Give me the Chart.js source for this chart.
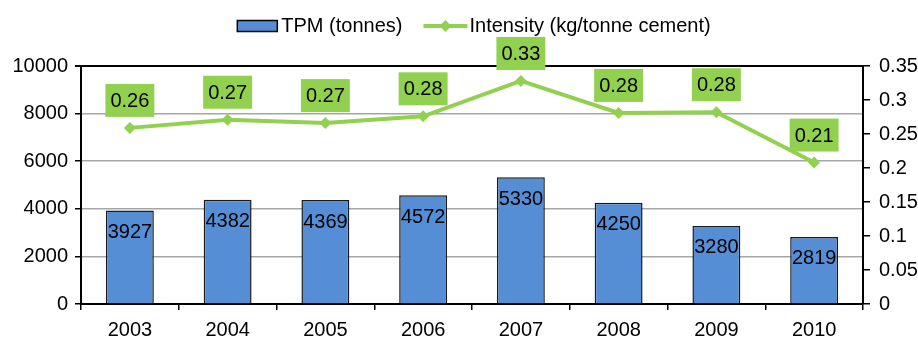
<!DOCTYPE html>
<html lang="en">
<head>
    <meta charset="UTF-8">
    <title>TPM and intensity</title>
    <script src="https://cdn.jsdelivr.net/npm/chart.js"></script>
    <style>
        body { margin: 0; background: #fff; }
    </style>
</head>
<body>
    <canvas id="chart1" width="918" height="339"></canvas>

    <script>
        var years = ['2003', '2004', '2005', '2006', '2007', '2008', '2009', '2010'];
        var tpm = [3927, 4382, 4369, 4572, 5330, 4250, 3280, 2819];
        var intensity = [0.259, 0.271, 0.266, 0.276, 0.328, 0.281, 0.282, 0.208];
        var leftTicks = [0, 2000, 4000, 6000, 8000, 10000];
        var rightTicks = [0, 0.05, 0.1, 0.15, 0.2, 0.25, 0.3, 0.35];

        var FONT = '"Liberation Sans", Arial, Helvetica, sans-serif';
        var BLUE = '#558ed5';
        var GREEN = '#92d050';

        // labels on the bars and green boxes over the line points
        var valueLabels = {
            id: 'valueLabels',
            afterDatasetsDraw: function (chart) {
                var ctx = chart.ctx;
                ctx.save();
                ctx.font = '20px ' + FONT;
                ctx.textAlign = 'center';
                ctx.textBaseline = 'middle';
                chart.data.datasets.forEach(function (ds, i) {
                    var meta = chart.getDatasetMeta(i);
                    meta.data.forEach(function (el, j) {
                        if (ds.type === 'bar') {
                            ctx.fillStyle = '#000';
                            ctx.fillText(String(ds.data[j]), el.x, el.y + 22);
                        } else {
                            var txt = ds.data[j].toFixed(2);
                            var w = ctx.measureText(txt).width + 10;
                            var h = 33;
                            var cy = el.y - 27.5;
                            ctx.fillStyle = GREEN;
                            ctx.fillRect(el.x - w / 2, cy - h / 2, w, h);
                            ctx.fillStyle = '#000';
                            ctx.fillText(txt, el.x, cy + 1);
                        }
                    });
                });
                ctx.restore();
            }
        };

        // legend drawn by hand: box for bars, line with diamond for the line
        var topLegend = {
            id: 'topLegend',
            afterDraw: function (chart) {
                var ctx = chart.ctx;
                var area = chart.chartArea;
                var ds = chart.data.datasets;
                var barDs = ds.filter(function (d) { return d.type === 'bar'; })[0];
                var lineDs = ds.filter(function (d) { return d.type === 'line'; })[0];
                ctx.save();
                ctx.font = '20px ' + FONT;
                ctx.textBaseline = 'middle';
                ctx.textAlign = 'left';
                var w1 = ctx.measureText(barDs.label).width;
                var w2 = ctx.measureText(lineDs.label).width;
                var total = 40 + 4 + w1 + 21 + 44 + 2 + w2;
                var x = (area.left + area.right) / 2 - total / 2 + 2;
                var y = 26;

                ctx.fillStyle = BLUE;
                ctx.fillRect(x, y - 5.5, 40, 11);
                ctx.strokeStyle = '#000';
                ctx.lineWidth = 1.5;
                ctx.strokeRect(x, y - 5.5, 40, 11);
                x += 44;
                ctx.fillStyle = '#000';
                ctx.fillText(barDs.label, x, y);
                x += w1 + 21;

                ctx.strokeStyle = GREEN;
                ctx.lineWidth = 4;
                ctx.beginPath();
                ctx.moveTo(x, y);
                ctx.lineTo(x + 44, y);
                ctx.stroke();
                ctx.fillStyle = GREEN;
                ctx.beginPath();
                ctx.moveTo(x + 22, y - 6);
                ctx.lineTo(x + 28, y);
                ctx.lineTo(x + 22, y + 6);
                ctx.lineTo(x + 16, y);
                ctx.closePath();
                ctx.fill();
                x += 46;
                ctx.fillStyle = '#000';
                ctx.fillText(lineDs.label, x, y);
                ctx.restore();
            }
        };

        var ctx = document.getElementById('chart1').getContext('2d');
        var chart = new Chart(ctx, {
            data: {
                labels: years,
                datasets: [{
                    type: 'line',
                    label: 'Intensity (kg/tonne cement)',
                    data: intensity,
                    yAxisID: 'y1',
                    borderColor: GREEN,
                    backgroundColor: GREEN,
                    borderWidth: 4,
                    pointStyle: 'rectRot',
                    pointRadius: 6,
                    pointBorderWidth: 0,
                    tension: 0,
                    order: 0
                }, {
                    type: 'bar',
                    label: 'TPM (tonnes)',
                    data: tpm,
                    yAxisID: 'y',
                    backgroundColor: BLUE,
                    borderColor: '#1a1a1a',
                    borderWidth: 1.5,
                    barPercentage: 0.49,
                    categoryPercentage: 1,
                    order: 1
                }]
            },
            options: {
                responsive: false,
                animation: false,
                devicePixelRatio: 1,
                layout: { padding: { top: 66, left: 0, right: 0, bottom: 0 } },
                plugins: {
                    legend: { display: false },
                    tooltip: { enabled: false }
                },
                scales: {
                    x: {
                        grid: { drawOnChartArea: false, tickLength: 6, tickColor: '#000', lineWidth: 1.5 },
                        border: { color: '#000', width: 2 },
                        ticks: { color: '#000', font: { family: FONT, size: 20 }, padding: 8 },
                        afterFit: function (s) { s.height = 35; }
                    },
                    y: {
                        position: 'left',
                        min: leftTicks[0],
                        max: leftTicks[leftTicks.length - 1],
                        afterBuildTicks: function (s) {
                            s.ticks = leftTicks.map(function (v) { return { value: v }; });
                        },
                        ticks: {
                            color: '#000',
                            font: { family: FONT, size: 20 },
                            padding: 7,
                            callback: function (v) { return String(v); }
                        },
                        grid: {
                            color: function (c) { return c.tick && c.tick.value === 10000 ? '#000' : '#a6a6a6'; },
                            lineWidth: function (c) { return c.tick && c.tick.value === 10000 ? 2 : 1.5; },
                            tickColor: '#000',
                            tickLength: 6
                        },
                        border: { color: '#000', width: 2 },
                        afterFit: function (s) { s.width = 81; }
                    },
                    y1: {
                        position: 'right',
                        min: rightTicks[0],
                        max: rightTicks[rightTicks.length - 1],
                        afterBuildTicks: function (s) {
                            s.ticks = rightTicks.map(function (v) { return { value: v }; });
                        },
                        ticks: {
                            color: '#000',
                            font: { family: FONT, size: 20 },
                            padding: 9,
                            callback: function (v) { return String(Math.round(v * 100) / 100); }
                        },
                        grid: { drawOnChartArea: false, tickColor: '#000', tickLength: 7, lineWidth: 1.5 },
                        border: { color: '#000', width: 2 },
                        afterFit: function (s) { s.width = 55; }
                    }
                }
            },
            plugins: [valueLabels, topLegend]
        });
    </script>
</body>
</html>
